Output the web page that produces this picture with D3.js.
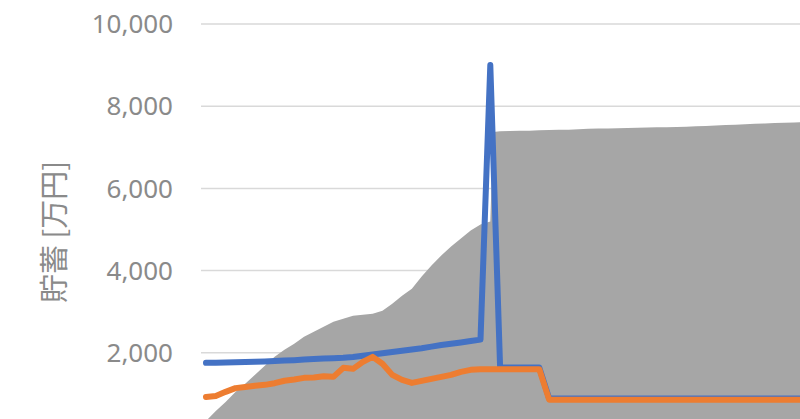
<!DOCTYPE html>
<html lang="ja">
<head>
  <meta charset="UTF-8">
  <title>貯蓄</title>
  <script src="https://d3js.org/d3.v7.min.js"></script>
  <style>
    body { margin: 0; padding: 0; background: #fff; }
    svg { display: block; }
    .tick-label { font-family: "Noto Sans", "Liberation Sans", sans-serif; font-size: 26px; fill: #8a8a8a; }
    .axis-title { font-family: "Noto Sans CJK JP", sans-serif; font-size: 29px; fill: #8a8a8a; }
  </style>
</head>
<body>
  <svg width="800" height="419"></svg>
  <script>
    // ages (years) for the line series
    const ages = d3.range(31, 93);

    const blueValues = [
      1756, 1760, 1765, 1770, 1775, 1780, 1790, 1800, 1810, 1820,
      1835, 1850, 1860, 1870, 1880, 1900, 1930, 1960, 1990, 2020,
      2050, 2080, 2110, 2150, 2190, 2220, 2250, 2285, 2320, 9000,
      1650, 1640, 1640, 1640, 1640, 890,
      890, 890, 890, 890, 890, 890, 890, 890, 890, 890,
      890, 890, 890, 890, 890, 890, 890, 890, 890, 890,
      890, 890, 890, 890, 890, 890
    ];

    const orangeValues = [
      927, 950, 1050, 1140, 1170, 1200, 1220, 1260, 1320, 1350,
      1390, 1400, 1430, 1415, 1634, 1610, 1780, 1902, 1732, 1463,
      1341, 1268, 1317, 1366, 1415, 1463, 1537, 1585, 1600, 1600,
      1600, 1600, 1600, 1600, 1600, 860,
      855, 855, 855, 855, 855, 855, 855, 855, 855, 855,
      855, 855, 855, 855, 855, 855, 855, 855, 855, 855,
      855, 855, 855, 855, 855, 855
    ];

    // gray area series
    const areaAges = [
      31, 32, 33, 34, 35, 36, 37, 38, 39, 40,
      41, 42, 43, 44, 45, 46, 47, 48, 49, 50,
      51, 52, 53, 54, 55, 56, 57, 58, 59, 60, 60.3,
      61, 62, 63, 64, 65, 66, 67, 68, 69, 70,
      71, 72, 73, 74, 75, 76, 77, 78, 79, 80,
      81, 82, 83, 84, 85, 86, 87, 88, 89, 90, 91, 92
    ];
    const areaValues = [
      341, 585, 805, 1049, 1244, 1463, 1683, 1902, 2073, 2220,
      2390, 2512, 2634, 2756, 2829, 2902, 2927, 2951, 3024, 3195,
      3390, 3561, 3854, 4122, 4366, 4585, 4780, 4976, 5122, 5195, 7370,
      7390, 7395, 7400, 7405, 7415, 7420, 7425, 7430, 7440, 7450,
      7455, 7460, 7465, 7470, 7475, 7480, 7485, 7490, 7495, 7500,
      7510, 7520, 7530, 7540, 7550, 7560, 7570, 7580, 7590, 7600, 7605, 7615
    ];

    const yTicks = [0, 2000, 4000, 6000, 8000, 10000];

    const svg = d3.select("svg");

    const x = d3.scaleLinear().domain([31, 92]).range([206, 804]);
    const y = d3.scaleLinear().domain([0, 10000]).range([435, 24]);

    // gridlines
    svg.append("g")
      .selectAll("line")
      .data(yTicks)
      .join("line")
      .attr("x1", 201)
      .attr("x2", 800)
      .attr("y1", d => y(d))
      .attr("y2", d => y(d))
      .attr("stroke", "#d9d9d9")
      .attr("stroke-width", 1.5);

    // tick labels (0 sits just below the visible edge)
    const fmt = d3.format(",");
    svg.append("g")
      .selectAll("text")
      .data(yTicks)
      .join("text")
      .attr("class", "tick-label")
      .attr("x", 173)
      .attr("y", d => y(d))
      .attr("dy", "0.35em")
      .attr("text-anchor", "end")
      .text(d => fmt(d));

    // axis title
    svg.append("text")
      .attr("class", "axis-title")
      .attr("transform", "translate(55,232) rotate(-90)")
      .attr("text-anchor", "middle")
      .attr("dy", "0.35em")
      .text("貯蓄 [万円]");

    // area
    const areaData = areaAges.map((a, i) => ({ age: a, v: areaValues[i] }));
    svg.append("path")
      .datum(areaData)
      .attr("fill", "#a6a6a6")
      .attr("d", d3.area()
        .x(d => x(d.age))
        .y0(y(0))
        .y1(d => y(d.v)));

    const line = d3.line()
      .x(d => x(d.age))
      .y(d => y(d.v));

    const blueData = ages.map((a, i) => ({ age: a, v: blueValues[i] }));
    const orangeData = ages.map((a, i) => ({ age: a, v: orangeValues[i] }));

    svg.append("path")
      .datum(blueData)
      .attr("fill", "none")
      .attr("stroke", "#4472c4")
      .attr("stroke-width", 6)
      .attr("stroke-linejoin", "round")
      .attr("stroke-linecap", "round")
      .attr("d", line);

    svg.append("path")
      .datum(orangeData)
      .attr("fill", "none")
      .attr("stroke", "#ed7d31")
      .attr("stroke-width", 6)
      .attr("stroke-linejoin", "round")
      .attr("stroke-linecap", "round")
      .attr("d", line);
  </script>
</body>
</html>
